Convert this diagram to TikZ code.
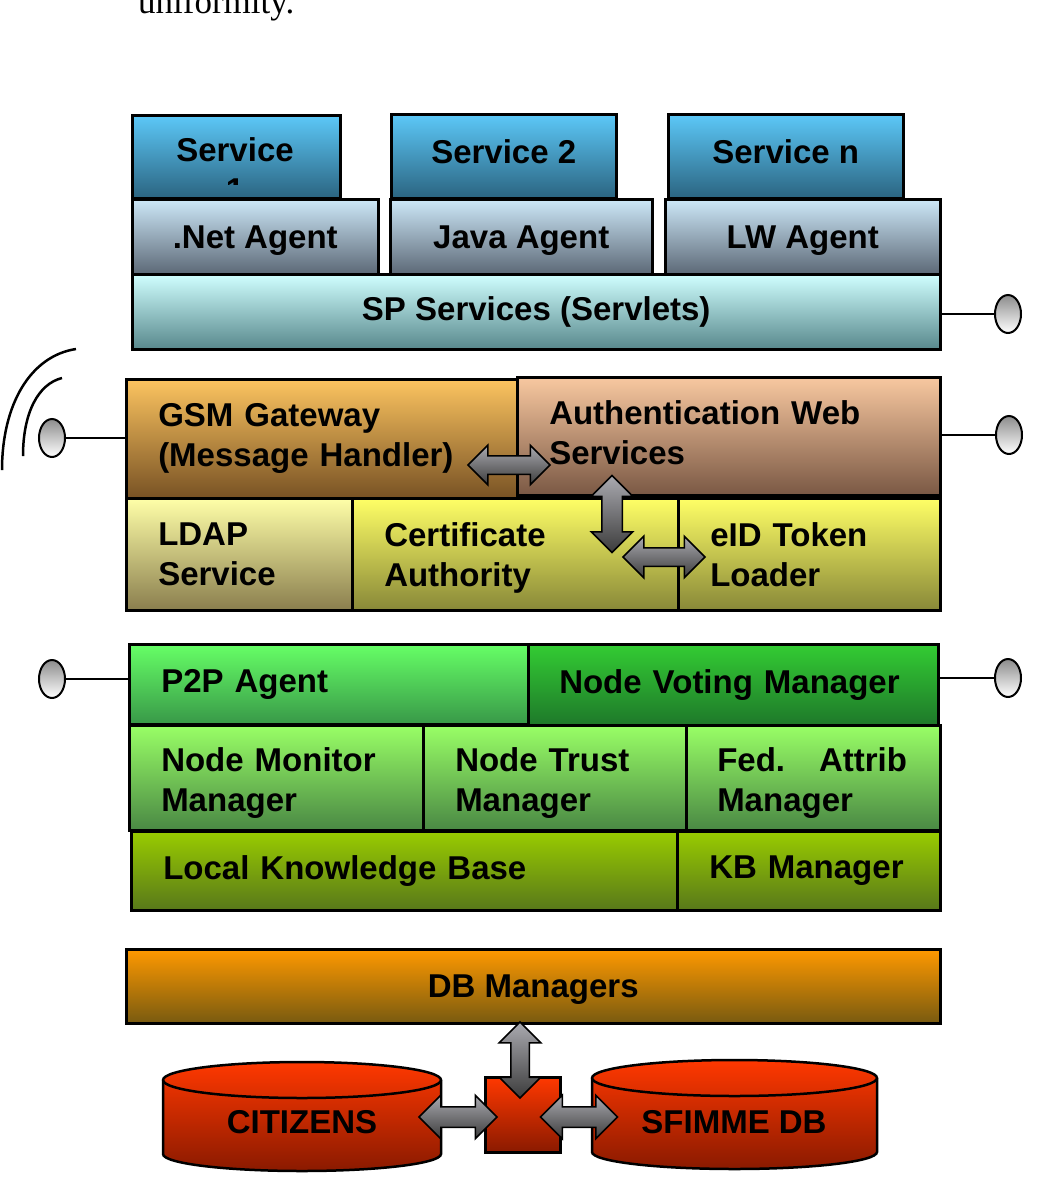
\documentclass[tikz,border=0pt]{standalone}
\usepackage{fontspec}
\setmainfont{Liberation Sans}
\newfontfamily\capfont{Liberation Serif}
\usetikzlibrary{positioning,shapes.geometric,shapes.arrows,shadings}
\definecolor{svctop}{RGB}{92,200,248}
\definecolor{svcbot}{RGB}{43,100,128}
\definecolor{agttop}{RGB}{205,232,248}
\definecolor{agtbot}{RGB}{92,104,118}
\definecolor{sptop}{RGB}{208,255,255}
\definecolor{spbot}{RGB}{88,136,140}
\definecolor{gsmtop}{RGB}{252,196,96}
\definecolor{gsmbot}{RGB}{120,82,36}
\definecolor{authtop}{RGB}{248,200,160}
\definecolor{authbot}{RGB}{122,88,68}
\definecolor{ldaptop}{RGB}{255,255,168}
\definecolor{ldapbot}{RGB}{138,126,78}
\definecolor{certtop}{RGB}{255,255,102}
\definecolor{certbot}{RGB}{136,136,56}
\definecolor{p2ptop}{RGB}{102,255,102}
\definecolor{p2pbot}{RGB}{56,152,72}
\definecolor{votetop}{RGB}{51,204,51}
\definecolor{votebot}{RGB}{30,120,42}
\definecolor{mgrtop}{RGB}{153,255,102}
\definecolor{mgrbot}{RGB}{74,136,68}
\definecolor{kbtop}{RGB}{153,204,0}
\definecolor{kbbot}{RGB}{88,120,26}
\definecolor{dbtop}{RGB}{255,153,0}
\definecolor{dbbot}{RGB}{120,90,16}
\definecolor{redtop}{RGB}{255,56,0}
\definecolor{redbot}{RGB}{138,26,0}
\definecolor{arrtop}{RGB}{170,170,176}
\definecolor{arrbot}{RGB}{60,60,60}
\tikzset{layer/.style={draw=black,line width=2.5pt,inner sep=0pt,anchor=north west,
    font=\bfseries\fontsize{33}{40}\selectfont},
  lefttext/.style={align=left,inner xsep=32pt},
  wire/.style={line width=2.5pt,black},
  plug/.style={ellipse,draw=black,line width=2pt,minimum width=26pt,minimum height=38pt,
    inner sep=0pt,top color=gray!90,bottom color=white},
  blockarrow/.style={double arrow,draw=black,line width=1.5pt,inner sep=8.5pt,
    text height=0pt,text depth=0pt,double arrow head extend=10.5pt,
    top color=arrtop,bottom color=arrbot},
  labeltext/.style={font=\bfseries\fontsize{33}{40}\selectfont,inner sep=0pt}}

\begin{document}
\begin{tikzpicture}[x=1pt,y=-1pt]
\useasboundingbox (0,0) rectangle (1047,1179);
\node[anchor=base west,inner sep=0pt,font=\capfont\fontsize{35}{40}\selectfont] (caption) at (138,13) {uniformity.};

% service tier
\node[layer,minimum width=208,minimum height=83,top color=svctop,bottom color=svcbot] (svc1) at (131,114) {};
\begin{scope}
\clip (131,114) rectangle (339,184);
\node[labeltext,align=center] (svc1txt) at (235,170) {Service\\1};
\end{scope}
\node[layer,minimum width=225,minimum height=84,text depth=10pt,top color=svctop,bottom color=svcbot] (svc2) at (390,113) {Service 2};
\node[layer,minimum width=235,minimum height=84,text depth=10pt,top color=svctop,bottom color=svcbot] (svcn) at (667,113) {Service n};
\node[layer,minimum width=246,minimum height=75,text depth=0pt,top color=agttop,bottom color=agtbot] (net) at (131,198) {.Net Agent};
\node[layer,minimum width=262,minimum height=75,text depth=0pt,top color=agttop,bottom color=agtbot] (java) at (389,198) {Java Agent};
\node[layer,minimum width=275,minimum height=75,text depth=0pt,top color=agttop,bottom color=agtbot] (lw) at (664,198) {LW Agent};
\node[layer,minimum width=808,minimum height=75,top color=sptop,bottom color=spbot] (sp) at (131,273) {SP Services (Servlets)};
\node[plug] (plugsp) at (1008,314) {};
\draw[wire] (sp.east |- plugsp) -- (plugsp);

% security tier
\node[layer,lefttext,text width=341,minimum height=119,top color=gsmtop,bottom color=gsmbot] (gsm) at (125,378) {GSM Gateway\\(Message Handler)};
\node[layer,lefttext,text width=359,minimum height=118,text depth=47pt,top color=authtop,bottom color=authbot] (auth) at (516,376) {Authentication Web\\Services};
\node[layer,lefttext,text width=162,minimum height=112,top color=ldaptop,bottom color=ldapbot] (ldap) at (125,497) {LDAP\\Service};
\node[layer,lefttext,text width=262,minimum height=112,text depth=40pt,top color=certtop,bottom color=certbot] (cert) at (351,497) {Certificate\\Authority};
\node[layer,lefttext,text width=198,minimum height=112,top color=certtop,bottom color=certbot] (eid) at (677,497) {eID Token\\Loader};
\node[blockarrow,minimum height=82,minimum width=38] (gsmauth) at (509,465) {};
\node[blockarrow,shape border rotate=90,inner sep=9.5pt,minimum height=77,minimum width=40] (authcert) at (612,514) {};
\node[blockarrow,minimum height=82,minimum width=40,double arrow head extend=11.5pt] (certeid) at (664,557) {};
\node[plug] (pluggsm) at (52,438) {};
\draw[wire] (gsm.west |- pluggsm) -- (pluggsm);
\draw[wire] (2,470) .. controls (2,405) and (30,356) .. (76,349);
\draw[wire] (23,456) .. controls (23,413) and (38,384) .. (62,378);
\node[plug] (plugauth) at (1009,435) {};
\draw[wire] (auth.east |- plugauth) -- (plugauth);

% p2p tier
\node[layer,lefttext,text width=335,minimum height=80,top color=p2ptop,bottom color=p2pbot] (p2p) at (128,643) {P2P Agent};
\node[layer,lefttext,text width=348,inner xsep=31pt,minimum height=81,top color=votetop,bottom color=votebot] (vote) at (527,643) {Node Voting Manager};
\node[layer,lefttext,text width=230,minimum height=105,text depth=36pt,top color=mgrtop,bottom color=mgrbot] (mon) at (128,724) {Node Monitor\\Manager};
\node[layer,lefttext,text width=199,minimum height=105,text depth=36pt,top color=mgrtop,bottom color=mgrbot] (trust) at (422,724) {Node Trust\\Manager};
\node[layer,lefttext,text width=192,inner xsep=31pt,minimum height=105,text depth=36pt,top color=mgrtop,bottom color=mgrbot] (fed) at (685,724) {Fed.\hspace{34pt}Attrib\\Manager};
\node[layer,lefttext,text width=482,minimum height=79,top color=kbtop,bottom color=kbbot] (lkb) at (130,830) {Local Knowledge Base};
\node[layer,lefttext,text width=199,minimum height=79,top color=kbtop,bottom color=kbbot] (kbm) at (676,830) {KB Manager};
\node[plug] (plugp2p) at (52,679) {};
\draw[wire] (p2p.west |- plugp2p) -- (plugp2p);
\node[plug] (plugvote) at (1008,678) {};
\draw[wire] (vote.east |- plugvote) -- (plugvote);

% data tier
\node[layer,minimum width=814,minimum height=74,text depth=0pt,top color=dbtop,bottom color=dbbot] (db) at (125,948) {DB Managers};
\path[draw=black,line width=2.5pt,top color=redtop,bottom color=redbot]
  (163,1080) -- (163,1154) arc[start angle=180,end angle=0,x radius=139,y radius=17]
  -- (441,1080) arc[start angle=0,end angle=-180,x radius=139,y radius=18] -- cycle;
\draw[wire] (163,1080) arc[start angle=180,end angle=0,x radius=139,y radius=18];
\node[labeltext] (citizens) at (302,1122) {CITIZENS};
\path[draw=black,line width=2.5pt,top color=redtop,bottom color=redbot]
  (592,1078) -- (592,1152) arc[start angle=180,end angle=0,x radius=142.5,y radius=17]
  -- (877,1078) arc[start angle=0,end angle=-180,x radius=142.5,y radius=18] -- cycle;
\draw[wire] (592,1078) arc[start angle=180,end angle=0,x radius=142.5,y radius=18];
\node[labeltext] (sfimme) at (734,1122) {SFIMME DB};
\node[layer,minimum width=75,minimum height=75,top color=redtop,bottom color=redbot] (hub) at (484,1076) {};
\node[blockarrow,shape border rotate=90,minimum height=76,minimum width=40,double arrow head extend=11.5pt] (dbhub) at (520,1060) {};
\node[blockarrow,inner sep=9.5pt,minimum height=78,minimum width=42,double arrow head extend=11.5pt] (hubcit) at (458,1117) {};
\node[blockarrow,inner sep=9.5pt,minimum height=77,minimum width=42,double arrow head extend=11.5pt] (hubsf) at (579,1117) {};
\end{tikzpicture}
\end{document}
